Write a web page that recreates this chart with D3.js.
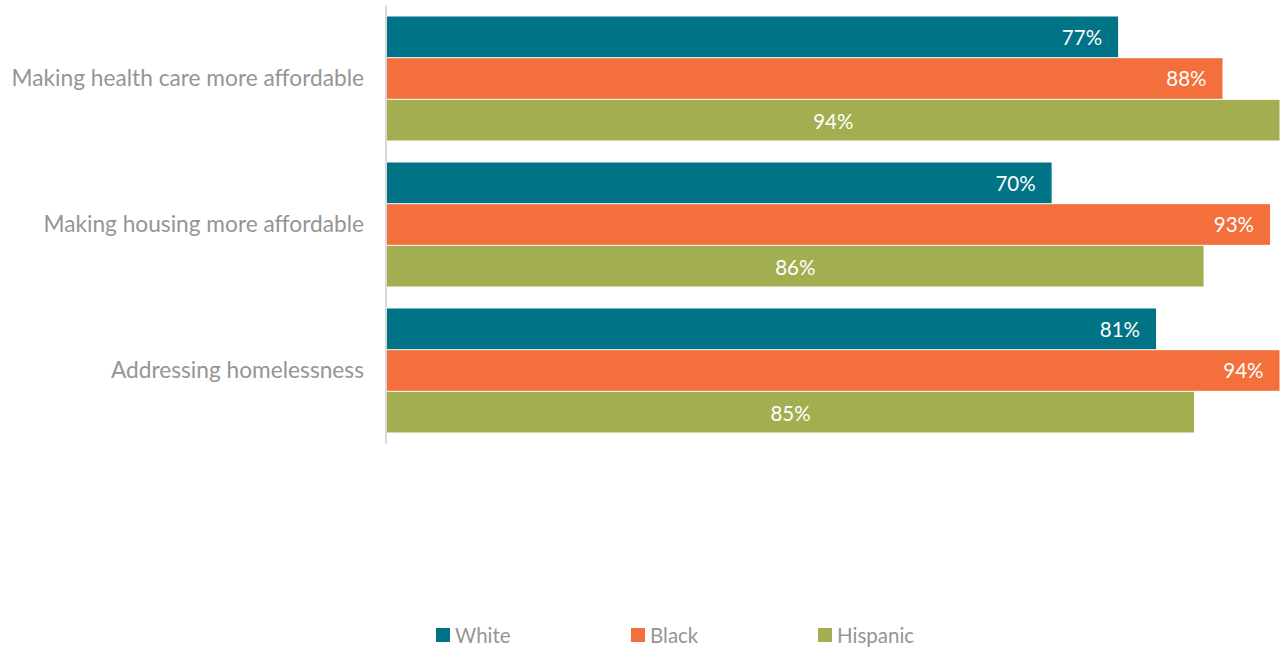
<!DOCTYPE html>
<html>
<head>
<meta charset="utf-8">
<script src="https://cdn.jsdelivr.net/npm/d3@7"></script>
<style>
  html, body { margin: 0; padding: 0; background: #fff; }
  svg { display: block; }
  text { font-family: Lato, "Open Sans", sans-serif; }
</style>
</head>
<body>
<svg id="chart" width="1280" height="649"></svg>
<script>
// Share of each group rating the item a priority (%)
const categories = ["Making health care more affordable", "Making housing more affordable", "Addressing homelessness"];
const seriesNames = ["White", "Black", "Hispanic"];
const whiteValues = [77, 70, 81];
const blackValues = [88, 93, 94];
const hispanicValues = [94, 86, 85];
const seriesColors = ["#017387", "#f3703d", "#a2ae50"];

const seriesValues = [whiteValues, blackValues, hispanicValues];

const svg = d3.select("#chart");
const left = 387, right = 1279.5;

const x = d3.scaleLinear().domain([0, 94]).range([left, right]);

const y0 = d3.scaleBand()
  .domain(categories)
  .range([5.5, 443.5])
  .paddingInner(21 / 146)
  .paddingOuter(21 / 292);

const y1 = d3.scaleBand()
  .domain(seriesNames)
  .range([0, y0.bandwidth()])
  .padding(0);

// bars
const groups = svg.append("g").selectAll("g")
  .data(categories)
  .join("g")
  .attr("transform", d => `translate(0,${y0(d)})`);

groups.each(function(cat, ci) {
  const g = d3.select(this);
  seriesNames.forEach((s, si) => {
    const v = seriesValues[si][ci];
    const by = y1(s);
    const bh = y1.bandwidth();
    g.append("rect")
      .attr("x", x(0))
      .attr("y", by + 0.5)
      .attr("width", x(v) - x(0))
      .attr("height", bh - 1)
      .attr("fill", seriesColors[si]);
    // White & Black labels sit at the inside end, Hispanic labels are centred
    const centred = si === 2;
    g.append("text")
      .attr("x", centred ? (x(0) + x(v)) / 2 : x(v) - 16)
      .attr("y", by + bh / 2)
      .attr("dy", centred ? "0.45em" : "0.38em")
      .attr("text-anchor", centred ? "middle" : "end")
      .attr("fill", "#ffffff")
      .attr("font-size", 20.5)
      .text(v + "%");
  });
});

// category axis
const yAxis = d3.axisLeft(y0).tickSize(0).tickPadding(22);
const ag = svg.append("g")
  .attr("transform", `translate(${left - 1},0)`)
  .call(yAxis);
ag.select(".domain").attr("stroke", "#d9d9d9").attr("stroke-width", 2)
  .attr("d", "M0,5.5V443.5");
ag.selectAll(".tick text")
  .attr("fill", "#989494")
  .attr("font-size", 22.7)
  .attr("font-family", "Lato, 'Open Sans', sans-serif");

// legend
const legendX = [436, 631, 818];
const legend = svg.append("g").selectAll("g")
  .data(seriesNames)
  .join("g")
  .attr("transform", (d, i) => `translate(${legendX[i]},628)`);
legend.append("rect")
  .attr("width", 14).attr("height", 14)
  .attr("fill", (d, i) => seriesColors[i]);
legend.append("text")
  .attr("x", 19).attr("y", 7).attr("dy", "0.4em")
  .attr("fill", "#989494")
  .attr("font-size", 20.5)
  .text(d => d);
</script>
</body>
</html>
